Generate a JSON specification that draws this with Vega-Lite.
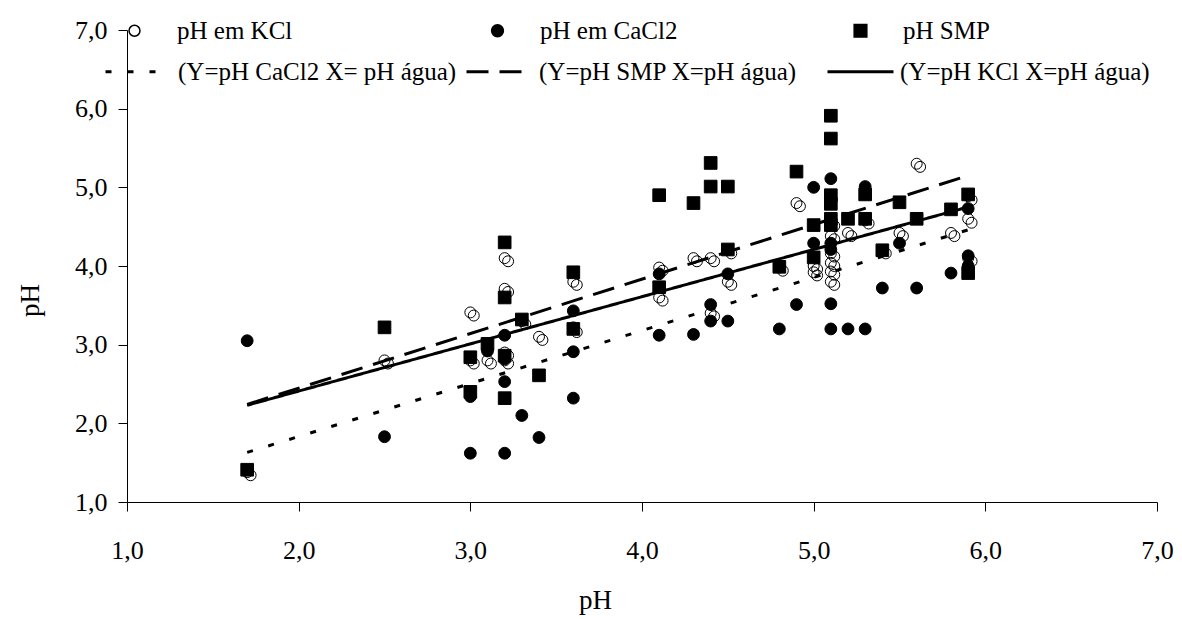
{
  "$schema": "https://vega.github.io/schema/vega-lite/v6.json",
  "width": 1030,
  "height": 472,
  "autosize": {"type": "none"},
  "padding": {"left": 127, "top": 30, "right": 25, "bottom": 117},
  "background": "white",
  "config": {
    "view": {"stroke": null},
    "font": "Liberation Serif",
    "axis": {
      "grid": false,
      "domainColor": "black",
      "tickColor": "black",
      "labelColor": "black",
      "titleColor": "black",
      "labelFont": "Liberation Serif",
      "titleFont": "Liberation Serif",
      "labelFontSize": 26,
      "titleFontSize": 27,
      "titleFontWeight": "normal",
      "tickSize": 9,
      "domainWidth": 1,
      "tickWidth": 1
    },
    "legend": {"labelFont": "Liberation Serif", "labelFontSize": 25, "labelColor": "black", "labelLimit": 500}
  },
  "datasets": {
    "pontos": [
      {"serie": "pH em KCl", "x": 1.7, "y": 1.38}, {"serie": "pH em KCl", "x": 1.72, "y": 1.34},
      {"serie": "pH em KCl", "x": 2.5, "y": 2.8}, {"serie": "pH em KCl", "x": 2.52, "y": 2.76},
      {"serie": "pH em KCl", "x": 3.0, "y": 3.41}, {"serie": "pH em KCl", "x": 3.02, "y": 3.37},
      {"serie": "pH em KCl", "x": 3.0, "y": 2.8}, {"serie": "pH em KCl", "x": 3.02, "y": 2.76},
      {"serie": "pH em KCl", "x": 3.1, "y": 2.8}, {"serie": "pH em KCl", "x": 3.12, "y": 2.76},
      {"serie": "pH em KCl", "x": 3.2, "y": 4.1}, {"serie": "pH em KCl", "x": 3.22, "y": 4.06},
      {"serie": "pH em KCl", "x": 3.2, "y": 3.71}, {"serie": "pH em KCl", "x": 3.22, "y": 3.67},
      {"serie": "pH em KCl", "x": 3.2, "y": 2.9}, {"serie": "pH em KCl", "x": 3.22, "y": 2.86},
      {"serie": "pH em KCl", "x": 3.2, "y": 2.8}, {"serie": "pH em KCl", "x": 3.22, "y": 2.76},
      {"serie": "pH em KCl", "x": 3.3, "y": 3.3}, {"serie": "pH em KCl", "x": 3.32, "y": 3.26},
      {"serie": "pH em KCl", "x": 3.4, "y": 3.1}, {"serie": "pH em KCl", "x": 3.42, "y": 3.06},
      {"serie": "pH em KCl", "x": 3.6, "y": 3.8}, {"serie": "pH em KCl", "x": 3.62, "y": 3.76},
      {"serie": "pH em KCl", "x": 3.6, "y": 3.22}, {"serie": "pH em KCl", "x": 3.62, "y": 3.16},
      {"serie": "pH em KCl", "x": 4.1, "y": 3.98}, {"serie": "pH em KCl", "x": 4.12, "y": 3.94},
      {"serie": "pH em KCl", "x": 4.1, "y": 3.6}, {"serie": "pH em KCl", "x": 4.12, "y": 3.56},
      {"serie": "pH em KCl", "x": 4.3, "y": 4.1}, {"serie": "pH em KCl", "x": 4.32, "y": 4.06},
      {"serie": "pH em KCl", "x": 4.4, "y": 4.1}, {"serie": "pH em KCl", "x": 4.42, "y": 4.06},
      {"serie": "pH em KCl", "x": 4.4, "y": 3.4}, {"serie": "pH em KCl", "x": 4.42, "y": 3.36},
      {"serie": "pH em KCl", "x": 4.5, "y": 4.2}, {"serie": "pH em KCl", "x": 4.52, "y": 4.16},
      {"serie": "pH em KCl", "x": 4.5, "y": 3.8}, {"serie": "pH em KCl", "x": 4.52, "y": 3.76},
      {"serie": "pH em KCl", "x": 4.8, "y": 3.98}, {"serie": "pH em KCl", "x": 4.82, "y": 3.94},
      {"serie": "pH em KCl", "x": 4.9, "y": 4.8}, {"serie": "pH em KCl", "x": 4.92, "y": 4.76},
      {"serie": "pH em KCl", "x": 5.0, "y": 4.0}, {"serie": "pH em KCl", "x": 5.02, "y": 3.96},
      {"serie": "pH em KCl", "x": 5.0, "y": 3.92}, {"serie": "pH em KCl", "x": 5.02, "y": 3.88},
      {"serie": "pH em KCl", "x": 5.1, "y": 4.55}, {"serie": "pH em KCl", "x": 5.12, "y": 4.51},
      {"serie": "pH em KCl", "x": 5.1, "y": 4.38}, {"serie": "pH em KCl", "x": 5.12, "y": 4.34},
      {"serie": "pH em KCl", "x": 5.1, "y": 4.16}, {"serie": "pH em KCl", "x": 5.12, "y": 4.12},
      {"serie": "pH em KCl", "x": 5.1, "y": 4.04}, {"serie": "pH em KCl", "x": 5.12, "y": 4.0},
      {"serie": "pH em KCl", "x": 5.1, "y": 3.93}, {"serie": "pH em KCl", "x": 5.12, "y": 3.89},
      {"serie": "pH em KCl", "x": 5.1, "y": 3.8}, {"serie": "pH em KCl", "x": 5.12, "y": 3.76},
      {"serie": "pH em KCl", "x": 5.2, "y": 4.42}, {"serie": "pH em KCl", "x": 5.22, "y": 4.38},
      {"serie": "pH em KCl", "x": 5.3, "y": 4.58}, {"serie": "pH em KCl", "x": 5.32, "y": 4.54},
      {"serie": "pH em KCl", "x": 5.4, "y": 4.2}, {"serie": "pH em KCl", "x": 5.42, "y": 4.16},
      {"serie": "pH em KCl", "x": 5.5, "y": 4.42}, {"serie": "pH em KCl", "x": 5.52, "y": 4.38},
      {"serie": "pH em KCl", "x": 5.6, "y": 5.3}, {"serie": "pH em KCl", "x": 5.62, "y": 5.26},
      {"serie": "pH em KCl", "x": 5.8, "y": 4.42}, {"serie": "pH em KCl", "x": 5.82, "y": 4.38},
      {"serie": "pH em KCl", "x": 5.9, "y": 4.89}, {"serie": "pH em KCl", "x": 5.92, "y": 4.84},
      {"serie": "pH em KCl", "x": 5.9, "y": 4.6}, {"serie": "pH em KCl", "x": 5.92, "y": 4.55},
      {"serie": "pH em KCl", "x": 5.9, "y": 4.1}, {"serie": "pH em KCl", "x": 5.92, "y": 4.06},

      {"serie": "pH em CaCl2", "x": 1.7, "y": 3.05},
      {"serie": "pH em CaCl2", "x": 2.5, "y": 1.83},
      {"serie": "pH em CaCl2", "x": 3.0, "y": 2.34},
      {"serie": "pH em CaCl2", "x": 3.0, "y": 1.62},
      {"serie": "pH em CaCl2", "x": 3.1, "y": 2.92},
      {"serie": "pH em CaCl2", "x": 3.2, "y": 3.12},
      {"serie": "pH em CaCl2", "x": 3.2, "y": 2.82},
      {"serie": "pH em CaCl2", "x": 3.2, "y": 2.53},
      {"serie": "pH em CaCl2", "x": 3.2, "y": 1.62},
      {"serie": "pH em CaCl2", "x": 3.3, "y": 2.1},
      {"serie": "pH em CaCl2", "x": 3.4, "y": 1.82},
      {"serie": "pH em CaCl2", "x": 3.6, "y": 3.43},
      {"serie": "pH em CaCl2", "x": 3.6, "y": 2.91},
      {"serie": "pH em CaCl2", "x": 3.6, "y": 2.32},
      {"serie": "pH em CaCl2", "x": 4.1, "y": 3.9},
      {"serie": "pH em CaCl2", "x": 4.1, "y": 3.12},
      {"serie": "pH em CaCl2", "x": 4.3, "y": 3.13},
      {"serie": "pH em CaCl2", "x": 4.4, "y": 3.51},
      {"serie": "pH em CaCl2", "x": 4.4, "y": 3.3},
      {"serie": "pH em CaCl2", "x": 4.5, "y": 3.9},
      {"serie": "pH em CaCl2", "x": 4.5, "y": 3.3},
      {"serie": "pH em CaCl2", "x": 4.8, "y": 3.2},
      {"serie": "pH em CaCl2", "x": 4.9, "y": 3.51},
      {"serie": "pH em CaCl2", "x": 5.0, "y": 5.0},
      {"serie": "pH em CaCl2", "x": 5.0, "y": 4.29},
      {"serie": "pH em CaCl2", "x": 5.1, "y": 5.11},
      {"serie": "pH em CaCl2", "x": 5.1, "y": 4.29},
      {"serie": "pH em CaCl2", "x": 5.1, "y": 4.21},
      {"serie": "pH em CaCl2", "x": 5.1, "y": 3.52},
      {"serie": "pH em CaCl2", "x": 5.1, "y": 3.2},
      {"serie": "pH em CaCl2", "x": 5.2, "y": 3.2},
      {"serie": "pH em CaCl2", "x": 5.3, "y": 5.01},
      {"serie": "pH em CaCl2", "x": 5.3, "y": 3.2},
      {"serie": "pH em CaCl2", "x": 5.4, "y": 3.72},
      {"serie": "pH em CaCl2", "x": 5.5, "y": 4.29},
      {"serie": "pH em CaCl2", "x": 5.6, "y": 3.72},
      {"serie": "pH em CaCl2", "x": 5.8, "y": 3.91},
      {"serie": "pH em CaCl2", "x": 5.9, "y": 4.73},
      {"serie": "pH em CaCl2", "x": 5.9, "y": 4.13},
      {"serie": "pH em CaCl2", "x": 5.9, "y": 4.0},

      {"serie": "pH SMP", "x": 1.7, "y": 1.41},
      {"serie": "pH SMP", "x": 2.5, "y": 3.22},
      {"serie": "pH SMP", "x": 3.0, "y": 2.84},
      {"serie": "pH SMP", "x": 3.0, "y": 2.4},
      {"serie": "pH SMP", "x": 3.1, "y": 3.01},
      {"serie": "pH SMP", "x": 3.2, "y": 4.3},
      {"serie": "pH SMP", "x": 3.2, "y": 3.6},
      {"serie": "pH SMP", "x": 3.2, "y": 2.86},
      {"serie": "pH SMP", "x": 3.2, "y": 2.32},
      {"serie": "pH SMP", "x": 3.3, "y": 3.32},
      {"serie": "pH SMP", "x": 3.4, "y": 2.61},
      {"serie": "pH SMP", "x": 3.6, "y": 3.92},
      {"serie": "pH SMP", "x": 3.6, "y": 3.2},
      {"serie": "pH SMP", "x": 4.1, "y": 4.9},
      {"serie": "pH SMP", "x": 4.1, "y": 3.73},
      {"serie": "pH SMP", "x": 4.3, "y": 4.8},
      {"serie": "pH SMP", "x": 4.4, "y": 5.31},
      {"serie": "pH SMP", "x": 4.4, "y": 5.01},
      {"serie": "pH SMP", "x": 4.5, "y": 5.01},
      {"serie": "pH SMP", "x": 4.5, "y": 4.21},
      {"serie": "pH SMP", "x": 4.8, "y": 3.99},
      {"serie": "pH SMP", "x": 4.9, "y": 5.2},
      {"serie": "pH SMP", "x": 5.0, "y": 4.52},
      {"serie": "pH SMP", "x": 5.0, "y": 4.11},
      {"serie": "pH SMP", "x": 5.1, "y": 5.91},
      {"serie": "pH SMP", "x": 5.1, "y": 5.62},
      {"serie": "pH SMP", "x": 5.1, "y": 4.9},
      {"serie": "pH SMP", "x": 5.1, "y": 4.79},
      {"serie": "pH SMP", "x": 5.1, "y": 4.6},
      {"serie": "pH SMP", "x": 5.1, "y": 4.52},
      {"serie": "pH SMP", "x": 5.2, "y": 4.6},
      {"serie": "pH SMP", "x": 5.3, "y": 4.91},
      {"serie": "pH SMP", "x": 5.3, "y": 4.6},
      {"serie": "pH SMP", "x": 5.4, "y": 4.2},
      {"serie": "pH SMP", "x": 5.5, "y": 4.81},
      {"serie": "pH SMP", "x": 5.6, "y": 4.6},
      {"serie": "pH SMP", "x": 5.8, "y": 4.72},
      {"serie": "pH SMP", "x": 5.9, "y": 4.91},
      {"serie": "pH SMP", "x": 5.9, "y": 3.91}
    ],
    "linhas": [
      {"serie": "(Y=pH CaCl2 X= pH água)", "x": 1.7, "y": 1.63},
      {"serie": "(Y=pH CaCl2 X= pH água)", "x": 5.9, "y": 4.46},
      {"serie": "(Y=pH SMP X=pH água)", "x": 1.7, "y": 2.24},
      {"serie": "(Y=pH SMP X=pH água)", "x": 5.9, "y": 5.15},
      {"serie": "(Y=pH KCl X=pH água)", "x": 1.7, "y": 2.23},
      {"serie": "(Y=pH KCl X=pH água)", "x": 5.9, "y": 4.75}
    ]
  },
  "layer": [
    {
      "data": {"name": "pontos"},
      "mark": {"type": "point", "filled": true, "stroke": "black", "strokeWidth": 1, "opacity": 1},
      "encoding": {
        "x": {
          "field": "x", "type": "quantitative",
          "scale": {"domain": [1, 7], "nice": false, "zero": false},
          "axis": {
            "title": "pH", "values": [1, 2, 3, 4, 5, 6, 7],
            "labelExpr": "replace(format(datum.value, '.1f'), '.', ',')",
            "labelPadding": 26, "labelFlush": false,
            "titleX": 468, "titleY": 98, "titleBaseline": "middle", "titleAlign": "center"
          }
        },
        "y": {
          "field": "y", "type": "quantitative",
          "scale": {"domain": [1, 7], "nice": false, "zero": false},
          "axis": {
            "title": "pH", "values": [1, 2, 3, 4, 5, 6, 7],
            "labelExpr": "replace(format(datum.value, '.1f'), '.', ',')",
            "labelPadding": 11, "labelFlush": false,
            "titleX": -97, "titleY": 270, "titleBaseline": "middle", "titleAlign": "center", "titleAngle": -90
          }
        },
        "shape": {
          "field": "serie", "type": "nominal",
          "scale": {"domain": ["pH em KCl", "pH em CaCl2", "pH SMP"], "range": ["circle", "circle", "square"]},
          "legend": {
            "title": null, "orient": "none", "legendX": -5, "legendY": -12,
            "direction": "horizontal", "columns": 3, "gridAlign": "all",
            "columnPadding": 170, "labelOffset": 30,
            "encode": {"symbols": {"update": {"stroke": {"value": "black"}, "strokeWidth": {"value": 1}}}}
          }
        },
        "fill": {
          "field": "serie", "type": "nominal",
          "scale": {"domain": ["pH em KCl", "pH em CaCl2", "pH SMP"], "range": ["transparent", "black", "black"]},
          "legend": {
            "title": null, "orient": "none", "legendX": -5, "legendY": -12,
            "direction": "horizontal", "columns": 3, "gridAlign": "all",
            "columnPadding": 170, "labelOffset": 30,
            "encode": {"symbols": {"update": {"stroke": {"value": "black"}, "strokeWidth": {"value": 1}}}}
          }
        },
        "size": {
          "field": "serie", "type": "nominal",
          "scale": {"domain": ["pH em KCl", "pH em CaCl2", "pH SMP"], "range": [120, 160, 85]},
          "legend": {
            "title": null, "orient": "none", "legendX": -5, "legendY": -12,
            "direction": "horizontal", "columns": 3, "gridAlign": "all",
            "columnPadding": 170, "labelOffset": 30,
            "encode": {"symbols": {"update": {"stroke": {"value": "black"}, "strokeWidth": {"value": 1}}}}
          }
        }
      }
    },
    {
      "data": {"name": "linhas"},
      "mark": {"type": "line", "color": "black", "strokeWidth": 3},
      "encoding": {
        "x": {"field": "x", "type": "quantitative"},
        "y": {"field": "y", "type": "quantitative"},
        "strokeDash": {
          "field": "serie", "type": "nominal",
          "scale": {
            "domain": ["(Y=pH CaCl2 X= pH água)", "(Y=pH SMP X=pH água)", "(Y=pH KCl X=pH água)"],
            "range": [[6, 16], [22, 11], [1, 0]]
          },
          "legend": {
            "title": null, "orient": "none", "legendX": -23, "legendY": 7,
            "direction": "horizontal", "columns": 3, "gridAlign": "all",
            "columnPadding": 3, "labelOffset": 5, "symbolType": "stroke", "symbolSize": 4356,
            "symbolStrokeColor": "black", "symbolStrokeWidth": 3
          }
        }
      }
    }
  ]
}
